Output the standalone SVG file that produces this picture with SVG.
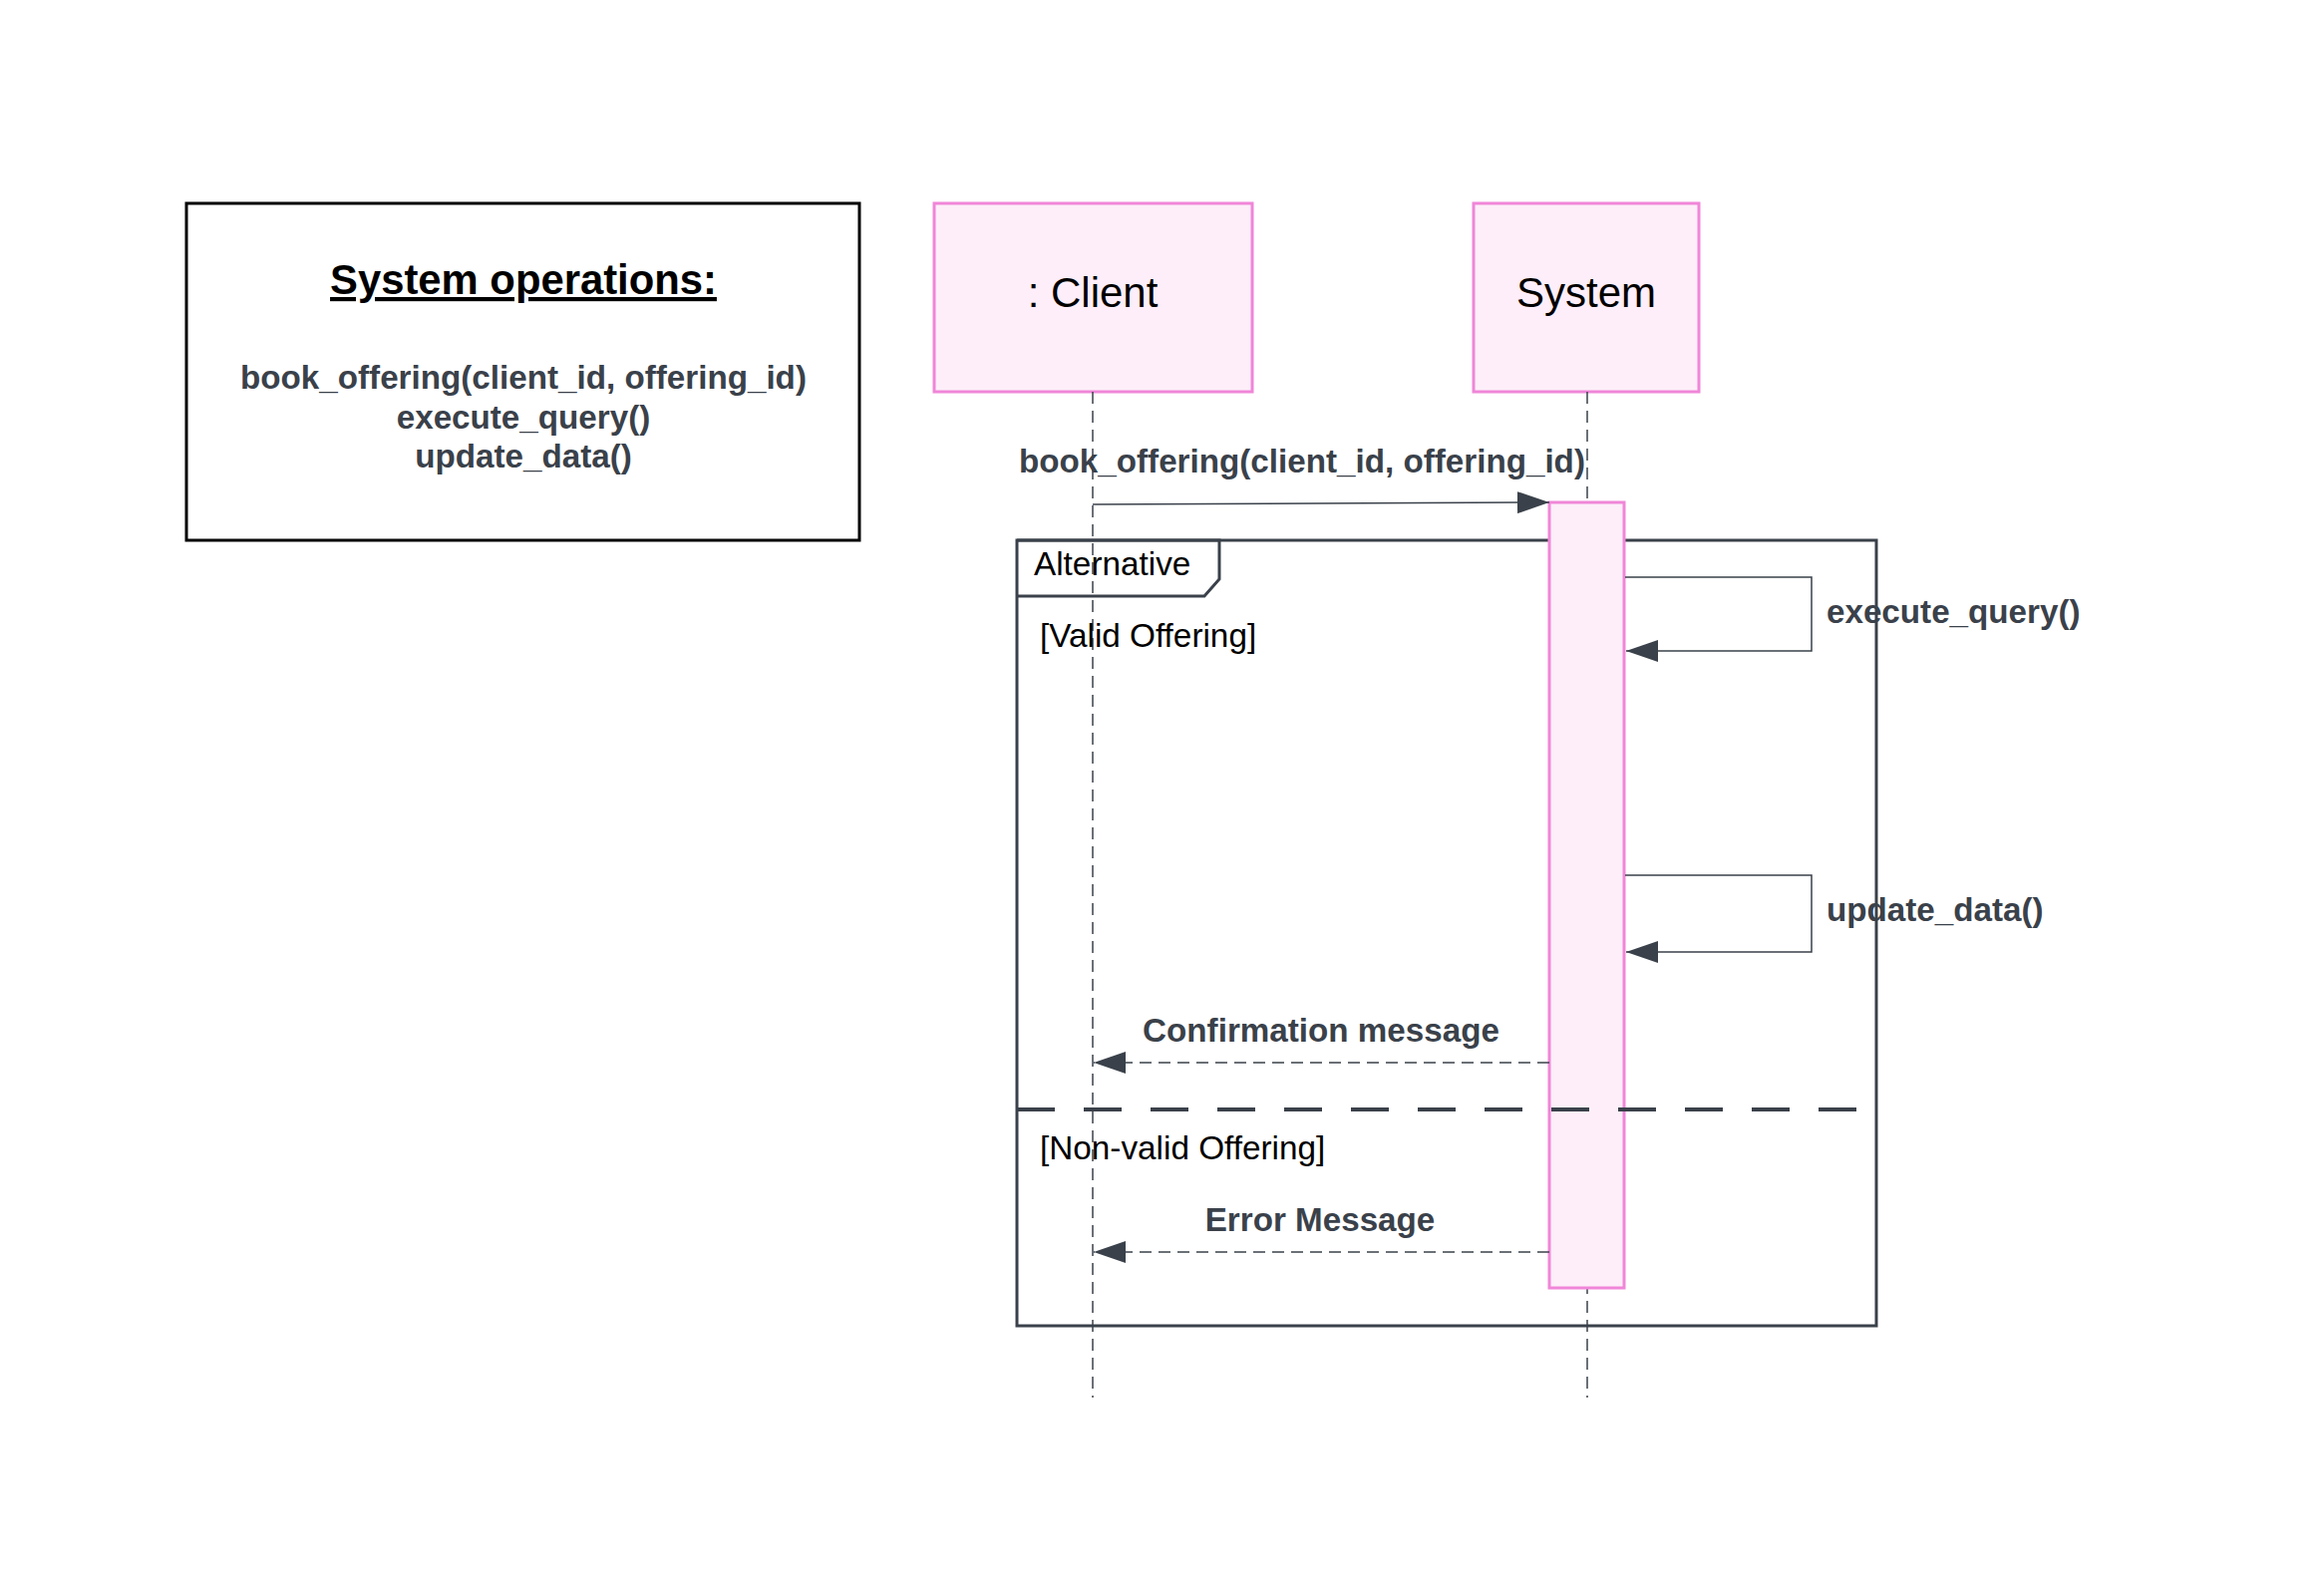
<svg xmlns="http://www.w3.org/2000/svg" width="2331" height="1579" viewBox="0 0 2331 1579">
<style>
.bg{fill:#ffffff}
.part{fill:#fdeef9;stroke:#f086d8;stroke-width:3}
.act{fill:#fdeef9;stroke:#f086d8;stroke-width:3}
.life{stroke:#3a414a;stroke-width:1.5;stroke-dasharray:12 7;fill:none}
.msg{stroke:#3a414a;stroke-width:1.5;fill:none}
.ret{stroke:#3a414a;stroke-width:1.5;stroke-dasharray:12 7;fill:none}
.frame{fill:none;stroke:#3a414a;stroke-width:3}
.sep{stroke:#3a414a;stroke-width:4;stroke-dasharray:38 29;fill:none}
.lbl{font-family:"Liberation Sans",Arial,sans-serif;font-size:33.2px;font-weight:bold;fill:#3a414a}
.reg{font-family:"Liberation Sans",Arial,sans-serif;font-size:33.3px;fill:#000000}
.pname{font-family:"Liberation Sans",Arial,sans-serif;font-size:42px;fill:#000000}
</style>
<defs>
<marker id="ah" markerWidth="32" markerHeight="22" refX="32" refY="11" orient="auto" markerUnits="userSpaceOnUse">
<path d="M0,0 L32,11 L0,22 Z" fill="#3a414a"/>
</marker>
</defs>
<rect class="bg" x="0" y="0" width="2331" height="1579"/>

<g id="ops">
<rect x="187" y="204" width="675" height="338" fill="#ffffff" stroke="#000000" stroke-width="3"/>
<text x="525" y="295" text-anchor="middle" font-family="'Liberation Sans',Arial,sans-serif" font-size="41.8" font-weight="bold" fill="#000000" text-decoration="underline">System operations:</text>
<text class="lbl" x="525" y="390" text-anchor="middle">book_offering(client_id, offering_id)</text>
<text class="lbl" x="525" y="430" text-anchor="middle">execute_query()</text>
<text class="lbl" x="525" y="469" text-anchor="middle">update_data()</text>
</g>

<g id="client">
<rect class="part" x="937" y="204" width="319" height="189"/>
<text class="pname" x="1096" y="308" text-anchor="middle">: Client</text>
</g>

<g id="system">
<rect class="part" x="1478" y="204" width="226" height="189"/>
<text class="pname" x="1591" y="308" text-anchor="middle">System</text>
</g>

<g id="lifelines">
<line class="life" x1="1096" y1="393" x2="1096" y2="1402"/>
<line class="life" x1="1592" y1="393" x2="1592" y2="1402"/>
</g>

<g id="alt-frame">
<rect class="frame" x="1020" y="542" width="862" height="788"/>
<path class="frame" d="M1020,542 L1223,542 L1223,581 L1208,598 L1020,598" fill="#ffffff"/>
<text class="reg" x="1037" y="577">Alternative</text>
<text class="reg" x="1043" y="649">[Valid Offering]</text>
<text class="reg" x="1043" y="1163">[Non-valid Offering]</text>
</g>

<g id="activation">
<rect class="act" x="1554" y="504" width="75" height="788"/>
</g>

<g id="alt-separator">
<line class="sep" x1="1020" y1="1113" x2="1882" y2="1113"/>
</g>

<g id="connectors">
<line class="msg" x1="1096" y1="506" x2="1554" y2="504" marker-end="url(#ah)"/>
<text class="lbl" x="1306" y="474" text-anchor="middle">book_offering(client_id, offering_id)</text>

<path class="msg" d="M1630,579 L1817,579 L1817,653 L1631,653" marker-end="url(#ah)"/>
<text class="lbl" x="1832" y="625">execute_query()</text>

<path class="msg" d="M1630,878 L1817,878 L1817,955 L1631,955" marker-end="url(#ah)"/>
<text class="lbl" x="1832" y="924">update_data()</text>

<line class="ret" x1="1554" y1="1066" x2="1097" y2="1066" marker-end="url(#ah)"/>
<text class="lbl" x="1325" y="1045" text-anchor="middle">Confirmation message</text>

<line class="ret" x1="1554" y1="1256" x2="1097" y2="1256" marker-end="url(#ah)"/>
<text class="lbl" x="1324" y="1235" text-anchor="middle">Error Message</text>
</g>
</svg>
